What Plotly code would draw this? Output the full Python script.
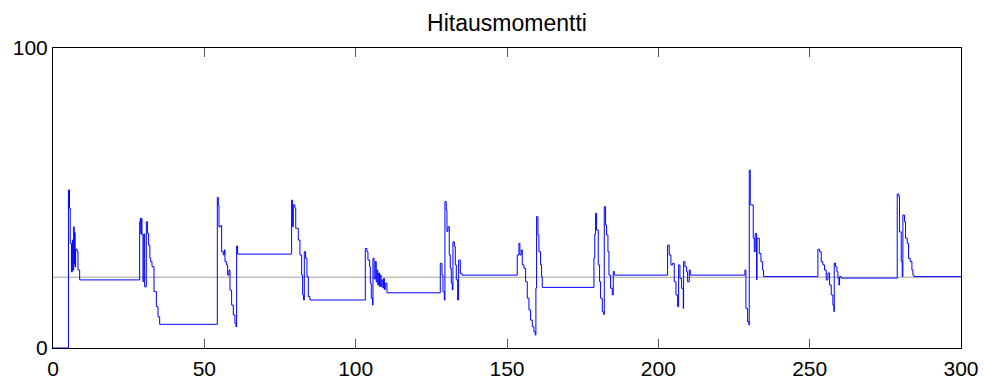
import plotly.graph_objects as go

# Signal (stair-step) : time values and levels
t = [0, 5.1, 5.45, 5.7, 6.1, 6.4, 6.6, 6.83, 7.0, 7.16, 7.3, 7.49, 7.93, 8.26, 8.81,
     28.63, 28.85, 29.0, 29.18, 29.4, 29.73, 30.0, 30.28, 30.83, 31.2, 31.6, 32.0, 32.27, 32.71,
     33.37, 34.14, 34.69, 35.24,
     54.29, 54.61, 54.84, 55.39, 55.72, 56.27, 56.6, 56.82, 57.37, 57.7, 58.14, 58.47, 59.02,
     59.57, 60.12, 60.45, 60.67, 61.0,
     78.84, 79.17, 79.39, 79.94, 80.2, 80.49, 81.04, 81.59, 82.14, 82.48, 82.81, 83.03, 83.47,
     83.91, 84.35, 84.9,
     103.18, 103.73, 104.06, 104.61, 104.83, 105.17, 105.61, 105.72, 106.1, 106.49, 106.8,
     107.04, 107.3, 107.59, 107.9, 108.14, 108.4, 108.69, 109.0, 109.24, 109.5, 109.79, 110.34,
     127.96, 128.51, 128.84, 129.28, 129.5, 129.94, 130.16, 130.49, 130.93, 131.26, 131.59,
     131.92, 132.14, 132.59, 132.92, 133.25, 133.69, 134.02, 134.57, 135.12,
     153.39, 153.94, 154.27, 154.71, 155.04, 155.6, 156.15, 156.7, 157.25, 157.8, 158.35,
     158.9, 159.34, 159.55, 159.78, 160.22, 160.55, 161.1, 161.43, 161.65,
     178.72, 179.0, 179.27, 179.6, 180.15, 180.59, 180.92, 181.47, 181.91, 182.13, 182.57,
     182.9, 183.35, 183.68, 184.23, 184.78, 185.11, 185.44,
     203.06, 203.61, 204.16, 204.71, 205.26, 205.82, 206.37, 206.7, 207.14, 207.69, 208.24,
     208.35, 208.79, 209.34, 209.67, 210.22, 210.55,
     228.61, 228.94, 229.49, 229.93, 230.04, 230.37, 230.92, 231.36, 231.69, 232.0, 232.24,
     232.46, 232.6, 232.79, 233.35, 233.9, 234.45, 234.78,
     252.72, 253.27, 253.82, 254.37, 254.92, 255.47, 256.03, 256.58, 257.13, 257.68, 258.01,
     258.12, 258.56, 259.0, 259.33, 259.66, 259.88, 260.43,
     278.93, 279.48, 279.7, 280.25, 280.58, 280.8, 281.35, 281.68, 282.23, 282.67, 283.23,
     283.78, 284.11, 284.44, 300]

level = [0, 52.7, 46.6, 34.9, 25.4, 36, 26, 40.4, 28, 38.5, 27, 33, 32.1, 26.0, 22.7,
         42.1, 43.2, 38, 43.2, 37.7, 22.1, 38, 20.4, 42.1, 38.2, 34.3, 30, 28.8, 27.1,
         18.8, 13.8, 10.4, 7.9,
         50.2, 47.7, 40.4, 40.8, 32.1, 31.0, 32.7, 28.8, 27.7, 24.3, 26.0, 19.3, 14.3,
         11.0, 8.2, 7.1, 34.0, 31.3,
         49.3, 40.4, 47.7, 46.6, 39.9, 39.9, 36.0, 31.0, 24.3, 17.7, 16.0, 32.1, 29.9,
         23.8, 17.1, 16.0,
         33.2, 32.1, 29.3, 27.1, 21.6, 16.6, 14.3, 29.9, 23, 28.8, 22,
         26.0, 21, 25, 20.5, 24.3, 20.5, 22.7, 20, 23.2, 19.5, 21.6, 18.4,
         28.2, 24.3, 18.8, 16.0, 48.8, 46.0, 38.8, 40.4, 31.0, 26.6, 21.6,
         19.4, 35.4, 33.8, 27.7, 22.7, 16.0, 29.3, 24.9, 24.3,
         31.0, 34.9, 31.0, 32.7, 27.7, 26.6, 22.1, 16.6, 12.7, 9.3, 7.1,
         5.4, 4.3, 20, 43.8, 37.6, 32.1, 27.7, 23.8, 20.2,
         30, 38, 44.9, 39.3, 27.7, 22.1, 16.6, 12.1, 11.2, 47.1, 41.0,
         37.7, 32.1, 24.3, 19.9, 17.7, 25.5, 24.3,
         34.3, 31.0, 27.7, 28.2, 22.1, 17.7, 13.8, 27.7, 23.2, 19.9, 13.2,
         28.8, 27.1, 25.4, 22.1, 26.0, 24.3,
         26.0, 13.2, 8.8, 7.7, 59.3, 47.7, 47.7, 36.6, 32.1, 38.2, 38.2,
         22.7, 36.6, 36.6, 31.5, 28.8, 26.0, 23.8,
         32.9, 32.1, 28.8, 27.7, 26.0, 22.7, 25.0, 21.0, 17.7, 14.3, 12.1,
         28.3, 27.1, 25.4, 23.2, 21.0, 23.8, 23.3,
         51.3, 50.4, 38.7, 28.8, 23.8, 44.3, 42.1, 36.6, 34.9, 29.9, 28.8,
         26.0, 24.3, 23.8, 23.8]

ref_t = [0, 300]
ref_level = [23.6, 23.6]

x_ticks = [0, 50, 100, 150, 200, 250, 300]
y_ticks = [0, 100]

fig = go.Figure()
fig.add_trace(go.Scatter(x=ref_t, y=ref_level, mode="lines",
                         line=dict(color="#a0a0a0", width=1), hoverinfo="skip"))
fig.add_trace(go.Scatter(x=t, y=level, mode="lines", line_shape="hv",
                         line=dict(color="#0000ff", width=1)))

axis_common = dict(showgrid=False, zeroline=False, showline=True, linecolor="black",
                   linewidth=1, mirror="ticks", ticks="inside", ticklen=9, automargin=False,
                   tickcolor="#555555", tickfont=dict(family="Liberation Sans", size=21, color="black"))

W, H = 984, 381
fig.update_layout(
    width=W, height=H,
    margin=dict(l=53, r=23, t=48, b=33, autoexpand=False),
    paper_bgcolor="white", plot_bgcolor="white",
    showlegend=False,
    title=dict(text="Hitausmomentti", x=0.5, xref="paper", y=1 - 23 / H, yref="container",
               yanchor="middle", xanchor="center",
               font=dict(family="Liberation Sans", size=23, color="black")),
    xaxis=dict(range=[0, 300], tickvals=x_ticks, ticktext=[str(v) for v in x_ticks],
               ticklabelstandoff=2, **axis_common),
    yaxis=dict(range=[0, 100], tickvals=y_ticks, ticktext=[str(v) for v in y_ticks], **axis_common),
)

# remove the page's default body margin so the figure fills the window exactly
fig.write_html("out.html", config={"displayModeBar": False},
               post_script="document.body.style.margin='0';document.body.style.overflow='hidden';")
